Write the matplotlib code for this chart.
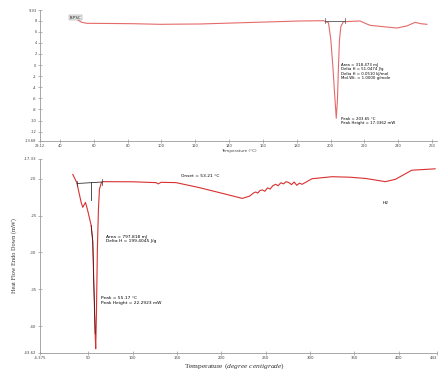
import matplotlib
matplotlib.use("Agg")
import matplotlib.pyplot as plt

plt.rcParams["mathtext.fontset"] = "custom"
plt.rcParams["mathtext.rm"] = "Liberation Serif"
plt.rcParams["mathtext.it"] = "Liberation Serif:italic"

# ---- top panel (B-PSC) ----
top_temp = [47.9, 49.9, 52.8, 55.8, 70.0, 83.4, 99.2, 110.0, 122.8, 142.5, 162.3, 182.0, 195.8,
            198.8, 200.2, 201.4, 202.4, 203.4, 204.1, 204.7, 205.3, 206.1, 207.6,
            217.5, 220.5, 223.4, 231.3, 239.2, 245.1, 250.1, 253.4, 257.0]
top_flow = [8.43, 8.25, 7.71, 7.53, 7.50, 7.46, 7.35, 7.38, 7.41, 7.59, 7.77, 7.95, 8.00,
            7.64, 4.52, -0.29, -5.08, -9.59, -6.29, -0.29, 4.52, 6.92, 7.82,
            7.95, 7.53, 7.17, 6.92, 6.68, 7.05, 7.71, 7.46, 7.35]
top_xticks = [40, 60, 80, 100, 120, 140, 160, 180, 200, 220, 240, 260]
top_yticks = [8, 6, 4, 2, 0, -2, -4, -6, -8, -10, -12]
top_xlim = (28.12, 263.0)
top_ylim = (-13.68, 9.93)

# ---- bottom panel (H2) ----
bot_temp = [32.6, 37.1, 42.0, 43.8, 46.9, 49.4, 53.3, 55.1, 56.2, 57.8, 58.4, 59.2, 60.3, 61.5,
            62.6, 64.8, 66.3, 100.0, 126.3, 128.9, 131.9, 148.8, 174.9, 205.0, 223.6,
            232.0, 236.0, 238.7, 241.0, 243.5, 246.1, 249.0, 252.0, 255.0, 258.0, 261.1,
            264.0, 267.0, 270.0, 273.0, 276.1, 279.0, 282.0, 285.0, 288.0, 291.0,
            302.2, 324.7, 345.0, 362.2, 384.7, 396.0, 414.6, 440.9]
bot_flow = [-19.43, -20.53, -23.21, -23.88, -23.21, -24.33, -26.34, -28.52, -33.86, -41.04, -43.05,
            -38.37, -29.45, -24.10, -21.43, -20.53, -20.40, -20.42, -20.53, -20.70, -20.49, -20.53,
            -21.20, -22.10, -22.67, -22.35, -21.95, -21.80, -21.95, -21.60, -21.52, -21.70, -21.25,
            -21.40, -20.95, -20.76, -20.95, -20.55, -20.70, -20.40, -20.53, -20.80, -20.45, -20.90,
            -20.60, -20.76, -20.00, -19.73, -19.80, -19.96, -20.40, -20.09, -18.85, -18.66]
bot_xticks = [50, 100, 150, 200, 250, 300, 350, 400]
bot_yticks = [-20, -25, -30, -35, -40]
bot_xlim = (-4.375, 443.0)
bot_ylim = (-43.62, -17.33)

red = "#d83030"
grey = "#9a9a9a"

fig = plt.figure(figsize=(4.38, 3.72), dpi=100)

def style(ax, fs):
    for s in ("top", "right"):
        ax.spines[s].set_visible(False)
    for s in ("left", "bottom"):
        ax.spines[s].set_color(grey)
        ax.spines[s].set_linewidth(0.6)
    ax.tick_params(direction="inout", length=2.5, width=0.5, color=grey,
                   labelsize=fs, labelcolor="#444444", pad=1.2)

# top
ax1 = fig.add_axes([40/438, 1-141/372, 397/438, 131/372])
ax1.plot(top_temp, top_flow, color="#e05050", lw=0.8, alpha=0.85)
ax1.set_xlim(*top_xlim)
ax1.set_ylim(*top_ylim)
ax1.set_xticks([top_xlim[0]] + top_xticks)
ax1.set_xticklabels(["28.12"] + [str(v) for v in top_xticks])
ax1.set_yticks(top_yticks + [top_ylim[0], top_ylim[1]])
ax1.set_yticklabels([str(v) for v in top_yticks] + ["-13.68", "9.93"])
style(ax1, 2.6)
ax1.set_xlabel("Temperature (°C)", fontsize=3, labelpad=0.5, color="#444444")
ax1.text(45.5, 8.55, "B-PSC", fontsize=2.8, ha="left", va="center",
         bbox=dict(boxstyle="square,pad=0.15", fc="#eeeeee", ec="#888888", lw=0.3))
ax1.plot([196.5, 208.5], [8.0, 8.0], color="#555555", lw=0.6)
ax1.plot([196.5, 196.5], [7.5, 8.5], color="#555555", lw=0.5)
ax1.plot([208.5, 208.5], [7.5, 8.5], color="#555555", lw=0.5)
ax1.text(206.3, -1.15, "Area = 318.473 mJ\nDelta H = 51.0474 J/g\nDelta H = 0.0510 kJ/mol\nMol.Wt. = 1.0000 g/mole",
         fontsize=2.8, ha="left", va="center", linespacing=1.05)
ax1.text(206.3, -10.1, "Peak = 203.65 °C\nPeak Height = 17.3362 mW",
         fontsize=2.8, ha="left", va="center", linespacing=1.05)

# bottom
ax2 = fig.add_axes([40/438, 1-353/372, 397/438, 194/372])
ax2.plot(bot_temp, bot_flow, color=red, lw=0.8)
ax2.plot(bot_temp[6:10], bot_flow[6:10], color="#3a1010", lw=0.5)
ax2.set_xlim(*bot_xlim)
ax2.set_ylim(*bot_ylim)
ax2.set_xticks([bot_xlim[0]] + bot_xticks + [bot_xlim[1]])
ax2.set_xticklabels(["-4.375"] + [str(v) for v in bot_xticks] + ["443"])
ax2.get_xticklabels()[-1].set_horizontalalignment("right")
ax2.set_yticks(bot_yticks + [bot_ylim[0], bot_ylim[1]])
ax2.set_yticklabels([str(v) for v in bot_yticks] + ["-43.62", "-17.33"])
style(ax2, 2.8)
fig.text(235/438, 1.0/372, "Temperature $\\mathit{(degree\\ centigrade)}$", fontsize=5.4,
         family="Liberation Serif", ha="center", va="bottom", color="#333333")
ax2.set_ylabel("Heat Flow Endo Down (mW)", fontsize=4.5, family="Liberation Serif",
               labelpad=5, color="#333333")
ax2.plot([37.5, 65.5], [-20.65, -20.45], color="#333333", lw=0.6)
ax2.plot([53.3, 53.3], [-20.4, -22.9], color="#333333", lw=0.6)
ax2.plot([65.5, 65.5], [-20.1, -20.8], color="#333333", lw=0.5)
ax2.plot([37.5, 37.5], [-20.3, -21.0], color="#333333", lw=0.5)
ax2.text(154, -19.6, "Onset = 53.21 °C", fontsize=3.2, ha="left", va="center")
ax2.text(70, -28.2, "Area = 797.818 mJ\nDelta H = 199.4045 J/g", fontsize=3.2,
         ha="left", va="center", linespacing=1.05)
ax2.text(64, -36.5, "Peak = 55.17 °C\nPeak Height = 22.2923 mW", fontsize=3.2,
         ha="left", va="center", linespacing=1.05)
ax2.text(382, -23.3, "H2", fontsize=3.2, ha="left", va="center")

fig.savefig("out.png", dpi=100)
